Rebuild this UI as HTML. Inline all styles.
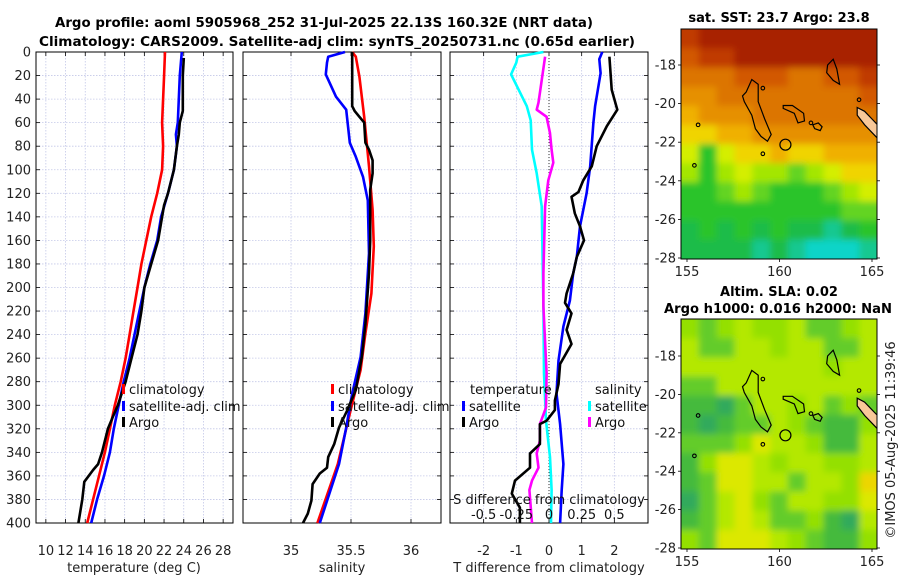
<!DOCTYPE html>
<html><head><meta charset="utf-8"><style>
html,body{margin:0;padding:0;background:#fff;}
svg{display:block;font-family:"DejaVu Sans","Liberation Sans",sans-serif;}
</style></head><body>
<svg id="fig" width="900" height="580" viewBox="0 0 900 580" xmlns="http://www.w3.org/2000/svg">
<text x="324" y="27" text-anchor="middle" font-weight="bold" font-size="13" textLength="538" lengthAdjust="spacingAndGlyphs">Argo profile: aoml 5905968_252 31-Jul-2025 22.13S 160.32E (NRT data)</text>
<text x="337" y="46" text-anchor="middle" font-weight="bold" font-size="13" textLength="596" lengthAdjust="spacingAndGlyphs">Climatology: CARS2009. Satellite-adj clim: synTS_20250731.nc (0.65d earlier)</text>
<text x="779" y="22" text-anchor="middle" font-weight="bold" font-size="13">sat. SST: 23.7 Argo: 23.8</text>
<text x="779" y="296" text-anchor="middle" font-weight="bold" font-size="13">Altim. SLA: 0.02</text>
<text x="778" y="313" text-anchor="middle" font-weight="bold" font-size="13" textLength="228" lengthAdjust="spacingAndGlyphs">Argo h1000: 0.016 h2000: NaN</text>
<text transform="translate(895,440) rotate(-90)" text-anchor="middle" font-size="13" fill="#222">©IMOS 05-Aug-2025 11:39:46</text>
</svg>
<script>
// ---------- data ----------
const depthTicks=[0,20,40,60,80,100,120,140,160,180,200,220,240,260,280,300,320,340,360,380,400];
const tempTicks=[10,12,14,16,18,20,22,24,26,28];
const salTicks=[35,35.5,36];
const tdiffTicks=[-2,-1,0,1,2];
const sdiffTicks=[-0.5,-0.25,0,0.25,0.5];
const sdiffTickLabels=["-0.5","-0.25","0","0.25","0.5"];
// temperature (depth, value)
const tClimDepth=[0,20,40,60,80,100,120,140,160,180,200,220,240,260,280,300,320,340,360,380,400];
const tClimVal=[22.1,22.0,21.9,21.8,21.9,21.8,21.3,20.7,20.2,19.7,19.3,18.9,18.5,18.1,17.6,17.0,16.5,16.0,15.4,14.8,14.2];
const tSatDepth=[0,20,40,60,70,80,100,120,140,160,180,200,220,240,260,280,300,320,340,360,380,400];
const tSatVal=[23.8,23.6,23.5,23.4,23.2,23.3,23.0,22.4,21.7,21.3,20.6,20.0,19.5,19.0,18.5,17.9,17.4,16.9,16.5,15.9,15.2,14.6];
const tArgoDepth=[5,20,40,50,60,70,80,100,120,130,140,160,180,200,220,240,260,280,300,310,320,340,350,355,365,380,400];
const tArgoVal=[24.0,23.9,23.9,23.9,23.6,23.5,23.3,23.0,22.4,22.0,21.8,21.4,20.7,20.0,19.7,19.3,18.7,18.1,17.3,16.8,16.3,15.7,15.3,14.8,13.9,13.7,13.3];
// salinity
const sClimDepth=[0,4,21,55,97,134,165,205,239,270,307,350,400];
const sClimVal=[35.51,35.54,35.57,35.61,35.65,35.68,35.69,35.67,35.62,35.58,35.49,35.39,35.22];
const sSatDepth=[0,4,9,19,38,49,77,89,106,126,171,222,259,290,319,350,400];
const sSatVal=[35.45,35.31,35.30,35.29,35.375,35.46,35.49,35.54,35.60,35.64,35.65,35.62,35.58,35.51,35.46,35.40,35.24];
const sArgoDepth=[0,46,50,55,60,77,83,92,103,117,160,188,231,259,287,304,319,333,344,353,358,367,381,392,400];
const sArgoVal=[35.51,35.51,35.53,35.57,35.61,35.62,35.65,35.68,35.68,35.66,35.66,35.65,35.62,35.59,35.54,35.47,35.40,35.36,35.31,35.30,35.24,35.18,35.17,35.14,35.10];
// differences from climatology
const dTSatDepth=[0,6,18,46,60,97,120,148,174,188,211,233,262,290,316,350,372,400];
const dTSatVal=[1.63,1.54,1.58,1.41,1.36,1.26,1.15,0.95,0.85,0.74,0.64,0.44,0.29,0.23,0.34,0.44,0.39,0.34];
const dTArgoDepth=[4,32,49,63,80,97,109,119,123,137,148,160,174,188,205,213,222,236,248,265,282,296,304,313,316,333,341,353,364,375,387,400];
const dTArgoVal=[1.85,1.92,2.09,1.77,1.46,1.31,1.05,0.90,0.69,0.79,0.95,1.07,0.85,0.74,0.54,0.49,0.69,0.54,0.69,0.34,0.29,0.18,0.18,-0.07,-0.28,-0.28,-0.58,-0.58,-1.04,-1.14,-0.89,-0.89];
const dSSatDepth=[0,4,9,19,46,58,83,103,131,160,216,273,313,344,372,400];
const dSSatVal=[-0.043,-0.24,-0.25,-0.29,-0.17,-0.14,-0.13,-0.094,-0.056,-0.051,-0.043,-0.038,-0.023,0.008,0.02,0.015];
const dSArgoDepth=[4,24,43,49,55,69,83,94,109,131,188,216,273,302,316,330,341,353,364,372,400];
const dSArgoVal=[-0.03,-0.056,-0.08,-0.094,-0.018,0.008,0.02,0.033,-0.005,-0.03,-0.043,-0.043,-0.018,-0.023,-0.07,-0.07,-0.094,-0.08,-0.13,-0.15,-0.13];
// maps
const lonTicks=[155,160,165];
const latTicks=[-18,-20,-22,-24,-26,-28];
const sstRows=["BAAAAAAAAAA","CBBAAAAAAAA","DDDCCCDDCCB","EEDDDDDDDDC","FEEEDDDDDDD","GGFFEEEEEEE","HKHGGFGGFFF","IKIHIIJIHGG","KKJIJKKKJIH","KKKKKKKKKJJ","LKLKLKLLMLK","LLLLMLMNNNM"];
const slaRows=["QRQPQQPRRQP","PRRPPQPPRRP","PPPPPPPPQPP","RRPPPPPPPPP","SSTRPPQPRQR","STSRRPQRSSQ","RRRQUPPQSSP","SQUUPQPPQQP","SRUUPPRPPQV","TRPUQRPPQQU","SRPUPRRQSTP","QRUUUPQRSSQ"];
const palette={A:"#a82000",B:"#c03a00",C:"#d25800",D:"#dc7400",E:"#e69000",F:"#f0b000",G:"#f0d400",H:"#d4ee00",I:"#a4e600",J:"#64d420",K:"#2cc42c",L:"#1cbc48",M:"#18c890",N:"#08d4c8",P:"#b4e800",Q:"#94e000",R:"#64cc2c",S:"#44ba3c",T:"#30aa5c",U:"#dce800",V:"#ecd600"};

// ---------- helpers ----------
const NS="http://www.w3.org/2000/svg";
const svg=document.getElementById('fig');
function mk(tag,attrs,parent){const e=document.createElementNS(NS,tag);for(const k in attrs)e.setAttribute(k,attrs[k]);(parent||svg).appendChild(e);return e;}
const Y0=52,Y1=523;
function yD(d){return Y0+(d/400)*(Y1-Y0);}
const panels=[
 {name:'temperature',x0:36,x1:233,min:9,max:29},
 {name:'salinity',x0:243,x1:441,min:34.6,max:36.25},
 {name:'difference',x0:450,x1:648,min:-3.03,max:3.03}
];
function xS(p,v){return p.x0+(v-p.min)/(p.max-p.min)*(p.x1-p.x0);}
function xSd(v){return xS(panels[2],v*4);}

panels.forEach((p,pi)=>{
  const g=mk('g',{});
  
  
  depthTicks.forEach(d=>{
    const l=mk('line',{x1:p.x0,x2:p.x1,y1:yD(d),y2:yD(d),stroke:'#c4c8e8','stroke-width':0.8,'stroke-dasharray':'1.5,1.5'},g);
    
    
    const t1=mk('line',{x1:p.x0,x2:p.x0+4,y1:yD(d),y2:yD(d),stroke:'#000','stroke-width':0.8},g);
    
    
    const t2=mk('line',{x1:p.x1-4,x2:p.x1,y1:yD(d),y2:yD(d),stroke:'#000','stroke-width':0.8},g);
    
    
    if(pi===0){
      const tl=mk('text',{x:31,y:yD(d)+4.5,'text-anchor':'end','font-size':13,fill:'#222'},g);
      tl.textContent=d;
      
      
    }
  });
  const xt=pi===0?tempTicks:pi===1?salTicks:tdiffTicks;
  xt.forEach(v=>{
    const x=xS(p,v);
    const l=mk('line',{x1:x,x2:x,y1:Y0,y2:Y1,stroke:'#c4c8e8','stroke-width':0.8,'stroke-dasharray':'1.5,1.5'},g);
    
    
    const tb=mk('line',{x1:x,x2:x,y1:Y1-4,y2:Y1,stroke:'#000','stroke-width':0.8},g);
    
    
    const tt=mk('line',{x1:x,x2:x,y1:Y0,y2:Y0+4,stroke:'#000','stroke-width':0.8},g);
    
    
    const lab=mk('text',{x:x,y:Y1+32,'text-anchor':'middle','font-size':13,fill:'#222'},g);
    lab.textContent=String(v);
    
    
  });
  const fr=mk('rect',{x:p.x0,y:Y0,width:p.x1-p.x0,height:Y1-Y0,fill:'none',stroke:'#000','stroke-width':1},g);
  
  
});
const zl=mk('line',{x1:xS(panels[2],0),x2:xS(panels[2],0),y1:Y0,y2:Y1,stroke:'#333','stroke-width':1,'stroke-dasharray':'1,2'});



function series(depths,vals,xf,color,name){
  const pts=depths.map((d,i)=>xf(vals[i]).toFixed(1)+','+yD(d).toFixed(1)).join(' ');
  const pl=mk('polyline',{points:pts,fill:'none',stroke:color,'stroke-width':2.6,'stroke-linejoin':'round'});
  
  
}
const P1=panels[0],P2=panels[1],P3=panels[2];
series(tClimDepth,tClimVal,v=>xS(P1,v),'#ff0000','temp-climatology-line');
series(tSatDepth,tSatVal,v=>xS(P1,v),'#0000ff','temp-satellite-adj-line');
series(tArgoDepth,tArgoVal,v=>xS(P1,v),'#000000','temp-argo-line');
series(sClimDepth,sClimVal,v=>xS(P2,v),'#ff0000','sal-climatology-line');
series(sSatDepth,sSatVal,v=>xS(P2,v),'#0000ff','sal-satellite-adj-line');
series(sArgoDepth,sArgoVal,v=>xS(P2,v),'#000000','sal-argo-line');
series(dSSatDepth,dSSatVal,xSd,'#00ffff','sdiff-satellite-line');
series(dSArgoDepth,dSArgoVal,xSd,'#ff00ff','sdiff-argo-line');
series(dTSatDepth,dTSatVal,v=>xS(P3,v),'#0000ff','tdiff-satellite-line');
series(dTArgoDepth,dTArgoVal,v=>xS(P3,v),'#000000','tdiff-argo-line');

[[134,'temperature (deg C)','temperature-axis-title'],[342,'salinity','salinity-axis-title'],[549,'T difference from climatology','tdiff-axis-title']].forEach(a=>{
  const t=mk('text',{x:a[0],y:572,'text-anchor':'middle','font-size':13,fill:'#222'});
  t.textContent=a[1];
  
  
});
const sdt=mk('text',{x:549,y:504,'text-anchor':'middle','font-size':13,fill:'#111'});
sdt.textContent='S difference from climatology';


sdiffTicks.forEach((v,i)=>{
  const t=mk('text',{x:xSd(v),y:519,'text-anchor':'middle','font-size':13,fill:'#111'});
  t.textContent=sdiffTickLabels[i];
  
  
});

function legEntry(x,y,color,label){
  const g=mk('g',{});
  
  
  const r=mk('rect',{x:x,y:y-10,width:3,height:10,fill:color},g);
  
  
  const t=mk('text',{x:x+7,y:y,'font-size':13,fill:'#111'},g);
  t.textContent=label;
  
  
}
legEntry(122,394,'#ff0000','climatology');
legEntry(122,411,'#0000ff','satellite-adj. clim');
legEntry(122,427,'#000000','Argo');
legEntry(331,394,'#ff0000','climatology');
legEntry(331,411,'#0000ff','satellite-adj. clim');
legEntry(331,427,'#000000','Argo');
const lt1=mk('text',{x:470,y:394,'font-size':13,fill:'#111'});lt1.textContent='temperature';


const lt2=mk('text',{x:595,y:394,'font-size':13,fill:'#111'});lt2.textContent='salinity';


legEntry(462,411,'#0000ff','satellite');
legEntry(462,427,'#000000','Argo');
legEntry(588,411,'#00ffff','satellite');
legEntry(588,427,'#ff00ff','Argo');

// ---------- maps ----------
const maps=[{name:'sst-map',x0:681,x1:877,y0:29,y1:259,lat18:65,lat28:258,rows:sstRows},
            {name:'sla-map',x0:681,x1:877,y0:319,y1:549,lat18:356,lat28:548,rows:slaRows}];
maps.forEach(m=>{
  const g=mk('g',{});
  
  
  const lx=lon=>687+(lon-155)*18.5;
  const ly=lat=>m.lat18+(-18-lat)/10*(m.lat28-m.lat18);
  const nr=m.rows.length,nc=m.rows[0].length;
  const cw=(m.x1-m.x0)/nc,ch=(m.y1-m.y0)/nr;
  const clipId='clip-'+m.name;
  const defs=mk('defs',{},g);
  const cp=mk('clipPath',{id:clipId},defs);
  mk('rect',{x:m.x0,y:m.y0,width:m.x1-m.x0,height:m.y1-m.y0},cp);
  const fid='blur-'+m.name;
  const f=mk('filter',{id:fid,x:'-10%',y:'-10%',width:'120%',height:'120%'},defs);
  mk('feGaussianBlur',{stdDeviation:3.5},f);
  const cg=mk('g',{'clip-path':'url(#'+clipId+')'},g);
  const bg=mk('rect',{x:m.x0,y:m.y0,width:m.x1-m.x0,height:m.y1-m.y0,fill:palette[m.rows[5][5]]},cg);
  
  
  const bl=mk('g',{filter:'url(#'+fid+')'},cg);
  m.rows.forEach((row,r)=>{
    for(let c=0;c<nc;c++){
      const cell=mk('rect',{x:m.x0+c*cw-(c===0?10:0),y:m.y0+r*ch-(r===0?10:0),width:cw+1+(c===0||c===nc-1?10:0),height:ch+1+(r===0||r===nr-1?10:0),fill:palette[row[c]]},bl);
      
      
    }
  });
  const reef=[[158.2,-19.4],[158.5,-18.75],[158.85,-19.0],[158.85,-19.9],[159.2,-20.8],[159.55,-21.6],[159.35,-21.95],[159.0,-21.7],[158.7,-21.3],[158.5,-20.6],[158.1,-19.9],[158.0,-19.6]];
  const reef2=[[160.2,-20.1],[160.7,-20.1],[161.3,-20.5],[161.35,-20.9],[161.0,-21.0],[160.8,-20.5],[160.2,-20.25]];
  const reef3=[[162.6,-18.0],[162.9,-17.7],[163.1,-18.2],[163.25,-19.0],[162.9,-18.8],[162.55,-18.4]];
  const reef4=[[161.8,-21.1],[162.1,-21.0],[162.3,-21.2],[162.2,-21.4],[161.9,-21.3]];
  const nc_land=[[164.2,-20.2],[164.6,-20.4],[165.0,-20.8],[165.4,-21.2],[165.4,-21.9],[165.0,-21.5],[164.6,-21.1],[164.2,-20.6]];
  const outl=(pts,fill,name)=>{
    const pg=mk('polygon',{points:pts.map(p=>lx(p[0]).toFixed(1)+','+ly(p[1]).toFixed(1)).join(' '),fill:fill,stroke:'#000','stroke-width':1.2},cg);
    
    
  };
  outl(reef,'none','chesterfield-reef-outline');
  outl(reef2,'none','bellona-reef-outline');
  outl(reef3,'none','north-reef-outline');
  outl(reef4,'none','small-reef-outline');
  outl(nc_land,'#f8c898','new-caledonia-land');
  const circ=mk('circle',{cx:lx(160.32),cy:ly(-22.13),r:5.5,fill:'none',stroke:'#000','stroke-width':1.2},cg);
  
  
  [[155.6,-21.1],[155.4,-23.2],[159.1,-22.6],[159.1,-19.2],[161.7,-21.0],[164.3,-19.8]].forEach(p=>{
    const d=mk('circle',{cx:lx(p[0]),cy:ly(p[1]),r:1.8,fill:'none',stroke:'#000','stroke-width':1.1},cg);
    
    
  });
  const fr=mk('rect',{x:m.x0,y:m.y0,width:m.x1-m.x0,height:m.y1-m.y0,fill:'none',stroke:'#000','stroke-width':1},g);
  
  
  latTicks.forEach(lat=>{
    const y=ly(lat);
    const t=mk('text',{x:676,y:y+4.5,'text-anchor':'end','font-size':13,fill:'#222'},g);
    t.textContent=String(lat);
    
    
    const tk=mk('line',{x1:m.x0-3,x2:m.x0,y1:y,y2:y,stroke:'#000','stroke-width':0.8},g);
    
    
    const tk2=mk('line',{x1:m.x1,x2:m.x1+3,y1:y,y2:y,stroke:'#000','stroke-width':0.8},g);
    
    
  });
  lonTicks.forEach(lon=>{
    const x=lx(lon);
    const t=mk('text',{x:x,y:m.y1+17,'text-anchor':'middle','font-size':13,fill:'#222'},g);
    t.textContent=String(lon);
    
    
    const tk=mk('line',{x1:x,x2:x,y1:m.y1,y2:m.y1+3,stroke:'#000','stroke-width':0.8},g);
    
    
  });
});
</script>
</body></html>
